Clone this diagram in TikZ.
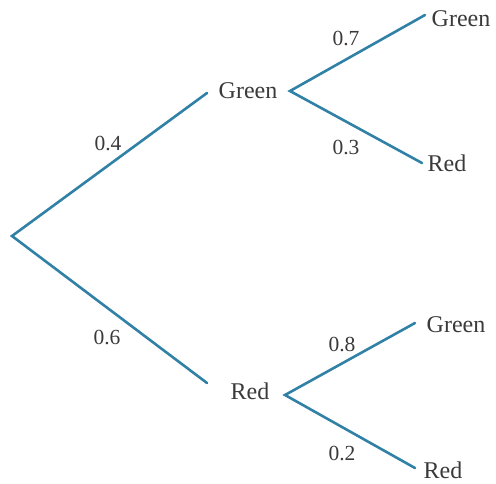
\documentclass[tikz,border=0pt]{standalone}
\usepackage{fontspec}
\setmainfont{Liberation Serif}
\definecolor{branch}{HTML}{3181A6}
\definecolor{ink}{HTML}{3A3A3A}
\tikzset{
  br/.style={draw=branch, line width=2.6pt, line cap=round, line join=miter},
  lbl/.style={text=ink, font=\fontsize{24}{27}\selectfont, inner sep=0pt},
  prob/.style={text=ink, font=\fontsize{21.5}{24}\selectfont, inner sep=0pt}
}
\begin{document}
\begin{tikzpicture}[x=1pt,y=-1pt]
\useasboundingbox (0,0) rectangle (496,483);
% branch coordinates
\coordinate (root) at (12,236);
\coordinate (gin) at (207,93);
\coordinate (gout) at (290,91);
\coordinate (rin) at (207,383);
\coordinate (rout) at (285,395);
\coordinate (gg) at (425,15);
\coordinate (gr) at (422,163);
\coordinate (rg) at (415,323);
\coordinate (rr) at (415,468);
% labels
\node[lbl] (G1) at (248,91) {Green};
\node[lbl] (R1) at (250,391) {Red};
\node[lbl] (GG) at (461,19) {Green};
\node[lbl] (GR) at (447,163) {Red};
\node[lbl] (RG) at (456,325) {Green};
\node[lbl] (RR) at (443,470) {Red};
\node[prob] (p04) at (108,143) {0.4};
\node[prob] (p06) at (107,337) {0.6};
\node[prob] (p07) at (346,38) {0.7};
\node[prob] (p03) at (346,147) {0.3};
\node[prob] (p08) at (342,344) {0.8};
\node[prob] (p02) at (342,453) {0.2};
% branches
\draw[br] (gin) -- (root) -- (rin);
\draw[br] (gg) -- (gout) -- (gr);
\draw[br] (rg) -- (rout) -- (rr);
\end{tikzpicture}
\end{document}
